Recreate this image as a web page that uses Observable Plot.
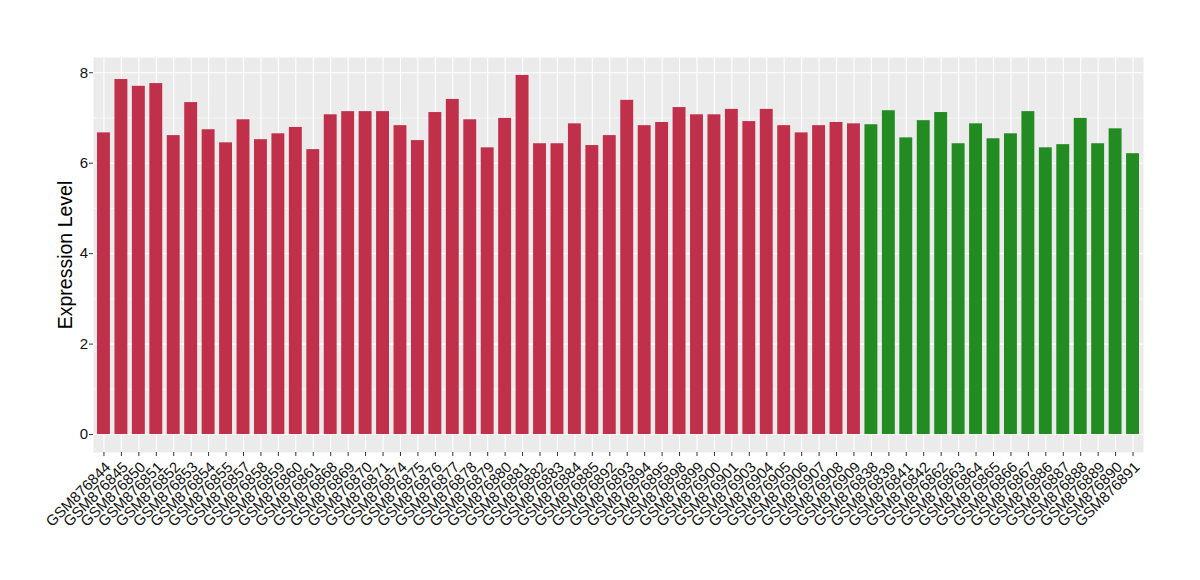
<!DOCTYPE html>
<html><head><meta charset="utf-8">
<script src="https://cdn.jsdelivr.net/npm/d3@7"></script>
<script src="https://cdn.jsdelivr.net/npm/@observablehq/plot@0.6"></script>
<style>body{margin:0;background:#fff;}</style>
</head><body><div id="chart"></div>
<script>
const redSamples = ["GSM876844","GSM876845","GSM876850","GSM876851","GSM876852","GSM876853","GSM876854","GSM876855","GSM876857","GSM876858","GSM876859","GSM876860","GSM876861","GSM876868","GSM876869","GSM876870","GSM876871","GSM876874","GSM876875","GSM876876","GSM876877","GSM876878","GSM876879","GSM876880","GSM876881","GSM876882","GSM876883","GSM876884","GSM876885","GSM876892","GSM876893","GSM876894","GSM876895","GSM876898","GSM876899","GSM876900","GSM876901","GSM876903","GSM876904","GSM876905","GSM876906","GSM876907","GSM876908","GSM876909"];
const redValues = [6.67,7.85,7.70,7.76,6.61,7.34,6.74,6.45,6.96,6.52,6.65,6.79,6.30,7.07,7.14,7.14,7.14,6.83,6.50,7.12,7.41,6.96,6.34,6.99,7.94,6.43,6.43,6.87,6.39,6.61,7.39,6.83,6.90,7.23,7.07,7.07,7.19,6.92,7.19,6.83,6.67,6.83,6.90,6.87];
const greenSamples = ["GSM876838","GSM876839","GSM876841","GSM876842","GSM876862","GSM876863","GSM876864","GSM876865","GSM876866","GSM876867","GSM876886","GSM876887","GSM876888","GSM876889","GSM876890","GSM876891"];
const greenValues = [6.85,7.16,6.56,6.94,7.12,6.43,6.87,6.54,6.65,7.14,6.34,6.41,6.99,6.43,6.76,6.21];
const groups = ["group1","group2"];
const groupColors = ["#C1304A","#228B22"];
const yTicks = [0,2,4,6,8];
const yMinor = [1,3,5,7];
const yTitle = "Expression Level";

const data = [
  ...redSamples.map((s,i)=>({sample:s, value:redValues[i], group:groups[0]})),
  ...greenSamples.map((s,i)=>({sample:s, value:greenValues[i], group:groups[1]}))
];
const samples = data.map(d=>d.sample);
const yMax = d3.max(data, d=>d.value);
const pad = yMax*0.05;

const chart = Plot.plot({
  width: 1200, height: 580,
  marginLeft: 93, marginRight: 57, marginTop: 57, marginBottom: 128,
  style: {fontFamily: "'Liberation Sans', Arial, sans-serif", fontSize: "15px", color: "#111", background: "#fff"},
  x: {type: "band", domain: samples, paddingInner: 0.26, paddingOuter: 0.23, round: false},
  y: {domain: [-pad, yMax + pad]},
  color: {domain: groups, range: groupColors},
  marks: [
    Plot.frame({fill: "#EBEBEB", stroke: null}),
    Plot.ruleY(yMinor, {stroke: "#fff", strokeWidth: 0.55}),
    Plot.ruleY(yTicks, {stroke: "#fff", strokeWidth: 1.1}),
    Plot.gridX({stroke: "#fff", strokeOpacity: 1, strokeWidth: 1.1}),
    Plot.barY(data, {x: "sample", y: "value", fill: "group"}),
    Plot.axisY({ticks: yTicks, tickSize: 4, tickPadding: 1.5, label: null, fontSize: 15, stroke: "#333", fill: "#111"}),
    Plot.axisX({tickSize: 4, tickFormat: () => "", label: null, stroke: "#333"}),
    Plot.text(samples, {x: d => d, text: d => d, frameAnchor: "bottom", dy: 8, rotate: -45, textAnchor: "end", lineAnchor: "top", fontSize: 15, fill: "#111"}),
    Plot.text([yTitle], {frameAnchor: "left", dx: -28, rotate: -90, text: d => d, fontSize: 19.5, fill: "#000", textAnchor: "middle"})
  ]
});
document.getElementById("chart").appendChild(chart);
</script>
</body></html>
